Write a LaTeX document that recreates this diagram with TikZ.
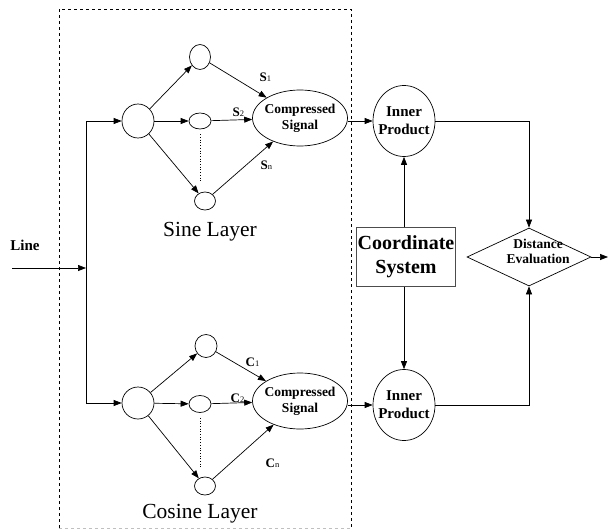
\documentclass[tikz,border=0pt]{standalone}
\usepackage{fontspec}
\setmainfont{Liberation Serif}
\usetikzlibrary{arrows.meta,shapes.geometric}
\newcommand{\wsub}[2]{\textbf{#1}{\fontsize{8.5}{8.5}\selectfont #2}}
\begin{document}
\begin{tikzpicture}[x=1pt, y=-1pt, line width=0.7pt,
    arr/.style={-{Triangle[length=8pt,width=6pt]}},
    unit/.style={draw, ellipse, inner sep=0pt},
    sig/.style={draw, ellipse, inner sep=0pt, minimum width=95pt, minimum height=56pt,
        label={[font=\fontsize{13.5}{16}\selectfont\bfseries, align=center]center:Compressed\\Signal}},
    prod/.style={draw, ellipse, inner sep=0pt, minimum width=62pt, minimum height=71pt,
        label={[font=\fontsize{15}{18}\selectfont\bfseries, align=center]center:Inner\\Product}},
    wlbl/.style={anchor=base west, font=\fontsize{13}{13}\selectfont}]
\useasboundingbox (0,0) rectangle (609,529);
\draw[dashed] (59,528) -- (59,9) -- (351,9) -- (351,528);
\draw[dashed, gray!50] (59,528) -- (351,528);
\foreach \n/\x/\y/\w/\h in {s0/138/121/32/34, s1/200/57/21/25, s2/200/121/22/16, s3/205/201/21/18,
                            c0/138/403/32/32, c1/206/346/22/23, c2/200/404/22/17, c3/205/486/21/18}
    \node[unit, minimum width=\w pt, minimum height=\h pt] (\n) at (\x,\y) {};
\node[sig] (ssig) at (300,118) {};
\node[sig] (csig) at (300,401) {};
\node[prod] (sip) at (404,121) {};
\node[prod] (cip) at (404,405) {};
\node[draw=black!70, line width=1pt, minimum width=99pt, minimum height=59pt, inner sep=0pt,
      font=\fontsize{20}{24}\selectfont\bfseries, align=center] (coord) at (406,257) {Coordinate\\System};
\node[draw, diamond, aspect=2.14, minimum width=124pt, minimum height=58pt, inner sep=0pt,
      label={[xshift=9pt, yshift=6pt, font=\fontsize{13.5}{15}\selectfont\bfseries, align=center]center:Distance\\Evaluation}]
      (dist) at (529,257) {};
\node[anchor=base, font=\fontsize{15}{15}\selectfont\bfseries] (line) at (25,250) {Line};
\node[anchor=base, font=\fontsize{21.5}{21.5}\selectfont] (slayer) at (210,236) {Sine Layer};
\node[anchor=base, font=\fontsize{21.5}{21.5}\selectfont] (clayer) at (200,518) {Cosine Layer};
\foreach \n/\x/\y/\t/\i in {ls1/256/82/S/1, ls2/229/117/S/2, lsn/257/170/S/n,
                            lc1/242/366/C/1, lc2/227/402/C/2, lcn/262/467/C/n}
    \node[wlbl] (\n) at (\x,\y) {\wsub{\t}{\i}};
\coordinate (lin) at (12,268);
\coordinate (split) at (86,268);
\coordinate (out) at (608,257);
\draw[arr] (lin) -- (split);
\draw[arr] (split) |- (s0);
\draw[arr] (split) |- (c0);
\foreach \l/\g in {s/ssig, c/csig}
    {\foreach \i in {1,2,3}
        {\draw[arr] (\l0) -- (\l\i);
         \draw[arr] (\l\i) -- (\g);};
     \draw[dotted, shorten <=5pt, shorten >=10pt] (\l2.south) -- (\l2.south |- \l3.north);};
\draw[arr] (ssig.east |- sip) -- (sip);
\draw[arr] (csig.east |- cip) -- (cip);
\draw[arr] (coord.north -| sip) -- (sip);
\draw[arr] (coord.south -| cip) -- (cip);
\draw[arr] (sip) -| (dist);
\draw[arr] (cip) -| (dist);
\draw[arr] (dist) -- (out);
\end{tikzpicture}
\end{document}
